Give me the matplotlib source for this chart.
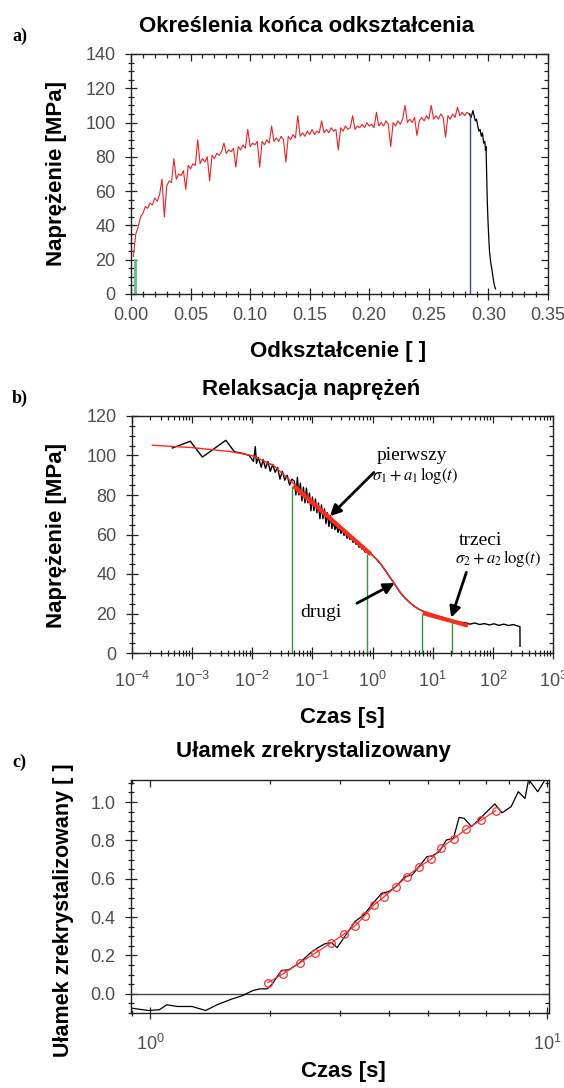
import numpy as np
import matplotlib
matplotlib.use('Agg')
import matplotlib.pyplot as plt
from matplotlib.ticker import MultipleLocator, NullFormatter, LogLocator

plt.rcParams['font.family'] = ['Liberation Sans', 'DejaVu Sans']

# ---------------- a) stress-strain record ----------------
strain_step = 0.002
stress_red = [22, 35, 39, 45, 47, 51, 50, 53, 52, 56,
              54, 58, 67, 45, 63, 66, 65, 79, 67, 70,
              69, 72, 61, 75, 73, 76, 75, 90, 76, 79,
              77, 80, 66, 81, 79, 82, 81, 83, 88, 82,
              84, 83, 85, 74, 86, 84, 87, 85, 96, 86,
              88, 87, 89, 74, 89, 87, 90, 88, 98, 89,
              91, 89, 92, 90, 77, 92, 90, 93, 91, 104,
              92, 94, 92, 95, 93, 96, 93, 95, 94, 101,
              94, 96, 94, 97, 95, 96, 84, 97, 95, 98,
              96, 97, 104, 96, 98, 97, 99, 97, 100, 98,
              99, 97, 106, 98, 100, 98, 101, 99, 86, 100,
              98, 101, 99, 102, 110, 100, 102, 100, 103, 92.5,
              101, 103, 101, 104, 102, 110, 102, 104, 102, 105,
              103, 91.5, 104, 102, 105, 103, 109, 104, 106, 104,
              106, 105]
strain_red = strain_step * np.arange(1, len(stress_red) + 1)

strain_drop = [0.284, 0.2855, 0.287, 0.288, 0.289, 0.290, 0.291, 0.292, 0.293,
               0.294, 0.295, 0.296, 0.297, 0.2975, 0.298, 0.2985, 0.299, 0.2995,
               0.300, 0.3005, 0.301, 0.302, 0.303, 0.304, 0.305, 0.306]
stress_drop = [105, 103, 107, 104, 101, 102, 98, 95, 96, 92, 94, 88, 89, 84,
               86, 70, 55, 45, 37, 30, 24, 18, 14, 9, 5, 3]

start_strain, start_stress = 0.003, 20
end_strain, end_stress = 0.2845, 105

# ---------------- b) stress relaxation ----------------
logt_early = [-3.33, -3.03, -2.83, -2.44, -2.30, -2.25, -2.15, -2.05, -1.98, -1.95,
              -1.93, -1.90, -1.85, -1.82, -1.78, -1.74, -1.70, -1.66, -1.62, -1.58,
              -1.54, -1.50, -1.46, -1.42, -1.38, -1.34]
sig_early = [103.8, 107.2, 99.2, 107.7, 102, 101.6, 101, 100, 97, 104.5,
             96, 99, 94, 98, 93.5, 97, 92, 95.5, 91.5, 94,
             88, 92, 87.5, 90, 85, 88]
sig_noisy = [87, 80, 89, 80, 86, 77, 84, 76, 83.5, 76,
             81, 72, 79, 72, 78, 71, 76, 68, 75, 68,
             73, 65.5, 71, 64, 69.5, 63, 67, 62.5, 65, 61,
             64, 60.5, 63, 59.5, 61.5, 58, 60, 57.5, 59, 56,
             57.5, 55, 56, 53.5, 54.5, 52.5, 53.5, 51, 52, 50.5,
             51]
logt_noisy = np.linspace(-1.30, -0.05, len(sig_noisy))
logt_late = [-0.02, 0.05, 0.15, 0.25, 0.35, 0.45, 0.55, 0.62, 0.70, 0.78,
             0.83, 0.95, 1.10, 1.28, 1.45, 1.55, 1.62, 1.70, 1.78, 1.86,
             1.94, 2.02, 2.10, 2.18, 2.26, 2.34, 2.42, 2.45, 2.452]
sig_late = [50, 48, 44.5, 40, 35.7, 31, 27.5, 25.5, 23.5, 22,
            21.3, 19.8, 18, 16.6, 15.6, 15.3, 14.6, 15.2, 14.4, 14.9,
            14.2, 14.8, 14.0, 14.6, 13.9, 14.4, 13.6, 13.4, 3.4]

logt_fit = [-3.66, -3.0, -2.37, -2.01, -1.65, -1.32, -0.04, 0.1, 0.2, 0.35,
            0.5, 0.62, 0.72, 0.83, 1.58]
sig_fit = [105.2, 104, 102, 100, 95, 86, 50.5, 46.5, 42.5, 35.7,
           29, 25.5, 23, 21.3, 14.1]
logt_first = [-1.32, -0.03]
sig_first = [84.6, 50.0]
logt_third = [0.835, 1.585]
sig_third = [20.2, 13.9]

t_marks = [0.0453, 0.816, 6.7, 20.7]
sig_marks = [84.6, 50, 19.6, 16.5]

# ---------------- c) recrystallised fraction ----------------
logt_frac = [-0.046, -0.003, 0.024, 0.042, 0.069, 0.106, 0.140, 0.169, 0.205, 0.232,
             0.259, 0.277, 0.295, 0.308, 0.331, 0.349, 0.376, 0.403, 0.421, 0.439,
             0.457, 0.471, 0.493, 0.516, 0.538, 0.565, 0.583, 0.601, 0.619, 0.642,
             0.660, 0.674, 0.697, 0.710, 0.728, 0.746, 0.764, 0.778, 0.791, 0.809,
             0.827, 0.845, 0.868, 0.886, 0.909, 0.927, 0.944, 0.953, 0.976, 0.994,
             1.004]
frac = [-0.075, -0.087, -0.083, -0.057, -0.066, -0.066, -0.087, -0.057, -0.028, -0.010,
        0.017, 0.026, 0.026, 0.052, 0.122, 0.125, 0.160, 0.212, 0.238, 0.260,
        0.267, 0.241, 0.307, 0.377, 0.411, 0.481, 0.524, 0.533, 0.559, 0.611,
        0.620, 0.655, 0.715, 0.719, 0.741, 0.802, 0.811, 0.920, 0.915, 0.872,
        0.906, 0.944, 0.990, 0.944, 0.976, 1.054, 1.019, 1.118, 1.054, 1.115,
        1.15]
logt_fit_c = [0.297, 0.335, 0.378, 0.416, 0.455, 0.488, 0.517, 0.541, 0.563, 0.590,
              0.619, 0.646, 0.676, 0.708, 0.732, 0.764, 0.796, 0.833, 0.870]
frac_fit = [0.059, 0.104, 0.163, 0.212, 0.264, 0.311, 0.356, 0.408, 0.462, 0.507,
            0.559, 0.611, 0.660, 0.703, 0.759, 0.809, 0.859, 0.905, 0.955]

W, H = 564, 1088
fig = plt.figure(figsize=(W / 100, H / 100), dpi=100)
fig.patch.set_facecolor('white')

TICK_COL = '#4d4d4d'


def box(l, r, t, b):
    return [l / W, 1 - b / H, (r - l) / W, (b - t) / H]


def style(ax, xminor=None, yminor=None, xpad=4):
    for s in ax.spines.values():
        s.set_linewidth(1.0)
        s.set_color('#222222')
    ax.tick_params(which='both', direction='inout', colors='#222222',
                   labelcolor=TICK_COL, labelsize=13, width=0.9)
    ax.tick_params(which='major', length=8)
    ax.tick_params(which='minor', length=4.5)
    ax.tick_params(axis='y', pad=7)
    ax.tick_params(axis='x', pad=xpad)
    if xminor is not None:
        ax.xaxis.set_minor_locator(MultipleLocator(xminor))
    if yminor is not None:
        ax.yaxis.set_minor_locator(MultipleLocator(yminor))
    # inward ticks on top and right
    top = ax.secondary_xaxis('top')
    right = ax.secondary_yaxis('right')
    if xminor is not None:
        top.xaxis.set_major_locator(ax.xaxis.get_major_locator())
        top.xaxis.set_minor_locator(MultipleLocator(xminor))
    else:
        top.xaxis.set_major_locator(LogLocator(numticks=10))
        top.xaxis.set_minor_locator(LogLocator(subs=np.arange(2, 10), numticks=20))
    right.yaxis.set_major_locator(ax.yaxis.get_major_locator())
    right.yaxis.set_minor_locator(MultipleLocator(yminor))
    for sec, axis in ((top, top.xaxis), (right, right.yaxis)):
        sec.tick_params(which='both', direction='in', colors='#222222', width=0.9)
        sec.tick_params(which='major', length=5)
        sec.tick_params(which='minor', length=3)
        axis.set_major_formatter(NullFormatter())
        axis.set_minor_formatter(NullFormatter())
        for s in sec.spines.values():
            s.set_visible(False)


# ---- panel a ----
ax1 = fig.add_axes(box(131, 548, 54, 294))
ax1.plot(strain_red, stress_red, color='#f02020', lw=0.8)
ax1.plot(strain_drop, stress_drop, color='black', lw=0.9)
ax1.plot([start_strain, start_strain], [0, start_stress], color='#5cc080', lw=2)
ax1.plot([end_strain, end_strain], [0, end_stress], color='#4444aa', lw=1)
ax1.set_xlim(0, 0.35)
ax1.set_ylim(0, 140)
ax1.set_xticks(np.arange(0, 0.351, 0.05))
ax1.set_yticks(np.arange(0, 141, 20))
ax1.xaxis.set_major_formatter(plt.FuncFormatter(lambda v, p: f'{v:.2f}'))
style(ax1, xminor=0.01, yminor=5, xpad=5)

# ---- panel b ----
ax2 = fig.add_axes(box(132, 553, 416, 653))
ax2.set_xscale('log')
t_black = 10 ** np.concatenate([logt_early, logt_noisy, logt_late])
s_black = np.concatenate([sig_early, sig_noisy, sig_late])
ax2.plot(t_black, s_black, color='black', lw=1.0)
ax2.plot(10 ** np.array(logt_fit), sig_fit, color='#ff2a1a', lw=1.0)
ax2.plot(10 ** np.array(logt_first), sig_first, color='#ff2a1a', lw=3.0,
         solid_capstyle='butt')
ax2.plot(10 ** np.array(logt_third), sig_third, color='#ff2a1a', lw=3.0,
         solid_capstyle='butt')
ax2.vlines(t_marks, 0, sig_marks, color='#2e9a3a', lw=1.0)
ax2.set_xlim(1e-4, 1e3)
ax2.set_ylim(0, 120)
ax2.set_yticks(np.arange(0, 121, 20))
ax2.xaxis.set_major_locator(LogLocator(numticks=10))
ax2.xaxis.set_minor_locator(LogLocator(subs=np.arange(2, 10), numticks=20))
ax2.xaxis.set_minor_formatter(NullFormatter())
style(ax2, yminor=5, xpad=9)

serif = ['Liberation Serif', 'DejaVu Serif']
arrow = dict(arrowstyle='-|>', lw=2.0, color='black', mutation_scale=16,
             shrinkA=0, shrinkB=0)
ax2.text(10 ** 0.65, 100, 'pierwszy', family=serif, fontsize=14,
         ha='center', va='center')
ax2.text(10 ** 0.71, 89.7, r'$\sigma_1 + a_1\,\log(t)$', fontsize=12,
         ha='center', va='center', math_fontfamily='stix')
ax2.annotate('', xy=(10 ** -0.709, 69.3), xytext=(10 ** 0.022, 91.4),
             arrowprops=arrow)
ax2.text(10 ** -0.858, 20.6, 'drugi', family=serif, fontsize=14,
         ha='center', va='center')
ax2.annotate('', xy=(10 ** 0.369, 35.4), xytext=(10 ** -0.26, 25.2),
             arrowprops=arrow)
ax2.text(10 ** 1.787, 57.2, 'trzeci', family=serif, fontsize=14,
         ha='center', va='center')
ax2.text(10 ** 2.09, 48.0, r'$\sigma_2 + a_2\,\log(t)$', fontsize=12,
         ha='center', va='center', math_fontfamily='stix')
ax2.annotate('', xy=(10 ** 1.308, 17.9), xytext=(10 ** 1.56, 40.9),
             arrowprops=arrow)

# ---- panel c ----
ax3 = fig.add_axes(box(131, 549, 780, 1013))
ax3.set_xscale('log')
ax3.axhline(0, color='#444444', lw=1.0)
ax3.plot(10 ** np.array(logt_frac), frac, color='black', lw=0.9)
ax3.plot(10 ** np.array(logt_fit_c), frac_fit, color='#ff3030', lw=0.9,
         marker='o', ms=5.5, mfc='none', mec='#ff3030', mew=0.9)
ax3.set_xlim(0.896, 10.1)
ax3.set_ylim(-0.1, 1.115)
ax3.set_yticks(np.arange(0, 1.01, 0.2))
ax3.yaxis.set_major_formatter(plt.FuncFormatter(lambda v, p: f'{abs(v):.1f}'))
ax3.xaxis.set_major_locator(LogLocator(numticks=10))
ax3.xaxis.set_minor_locator(LogLocator(subs=np.arange(2, 10), numticks=20))
ax3.xaxis.set_minor_formatter(NullFormatter())
style(ax3, yminor=0.05, xpad=11)

# ---- titles, axis labels, panel letters ----
bold = dict(fontsize=16, fontweight='bold', color='black')


def ftext(x, y, s, **kw):
    fig.text(x / W, 1 - y / H, s, ha='center', va='center', **kw)


ftext(307, 27, 'Określenia końca odkształcenia', **bold)
ftext(311, 389, 'Relaksacja naprężeń', **bold)
ftext(313, 752, 'Ułamek zrekrystalizowany', **bold)

ftext(338, 352, 'Odkształcenie [ ]', **bold)
ftext(342, 717, 'Czas [s]', **bold)
ftext(343, 1071, 'Czas [s]', **bold)

ftext(57, 174, 'Naprężenie [MPa]', rotation=90, **bold)
ftext(57, 535, 'Naprężenie [MPa]', rotation=90, **bold)
ftext(64, 910, 'Ułamek zrekrystalizowany [ ]', rotation=90,
      fontsize=15.5, fontweight='bold', color='black')

for lab, y in (('a)', 36), ('b)', 398), ('c)', 762)):
    fig.text(12 / W, 1 - y / H, lab, family=serif, fontsize=13,
             fontweight='bold', ha='left', va='center')

fig.savefig('out.png', dpi=100)
